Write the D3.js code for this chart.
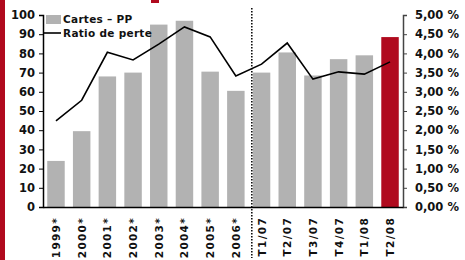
<!DOCTYPE html>
<html>
<head>
<meta charset="utf-8">
<script src="https://cdn.jsdelivr.net/npm/d3@7"></script>
<style>
  body { margin: 0; background: #fff; }
  svg { display: block; font-family: "DejaVu Sans", Verdana, sans-serif; font-weight: bold; }
</style>
</head>
<body>
<svg width="465" height="260"></svg>
<script>
var categories = ["1999*", "2000*", "2001*", "2002*", "2003*", "2004*", "2005*", "2006*",
                  "T1/07", "T2/07", "T3/07", "T4/07", "T1/08", "T2/08"];
var cartes = [24, 39.5, 68, 70, 95, 97, 70.5, 60.5, 70, 80.5, 68.5, 77, 79, 88.5];
var ratio = [2.24, 2.78, 4.03, 3.83, 4.24, 4.69, 4.43, 3.41, 3.72, 4.27, 3.33, 3.52, 3.46, 3.78];
var leftTicks = [0, 10, 20, 30, 40, 50, 60, 70, 80, 90, 100];
var rightTicks = [0, 0.5, 1, 1.5, 2, 2.5, 3, 3.5, 4, 4.5, 5];

var svg = d3.select("svg");
var plotLeft = 43, plotRight = 403, plotTop = 15, plotBottom = 207;
var font = "DejaVu Sans, Verdana, sans-serif";

var x = d3.scaleBand().domain(categories).range([plotLeft, plotRight]).paddingInner(0.32).paddingOuter(0.165);
var y = d3.scaleLinear().domain([0, 100]).range([plotBottom, plotTop]);
var y2 = d3.scaleLinear().domain([0, 5]).range([plotBottom, plotTop]);

// red strip on the left
svg.append("rect").attr("x", 0).attr("y", 0).attr("width", 5).attr("height", 260).attr("fill", "#b00a1e");
svg.append("rect").attr("x", 151).attr("y", 0).attr("width", 8).attr("height", 3).attr("fill", "#b00a1e");

svg.selectAll(".bar")
  .data(cartes)
  .enter()
  .append("rect")
  .attr("class", "bar")
  .attr("x", (d, i) => x(categories[i]))
  .attr("y", d => y(d))
  .attr("width", x.bandwidth())
  .attr("height", d => plotBottom - y(d))
  .attr("fill", (d, i) => i == categories.length - 1 ? "#b00a1e" : "#b2b2b2");

// dotted divider between years and quarters
var divX = x("T1/07") - 1;
svg.append("line")
  .attr("x1", divX).attr("x2", divX)
  .attr("y1", 8).attr("y2", 258)
  .attr("stroke", "#000").attr("stroke-width", 1.5)
  .attr("stroke-dasharray", "1.5,1.5");

var line = d3.line()
  .x((d, i) => x(categories[i]) + x.bandwidth() / 2)
  .y(d => y2(d));
svg.append("path")
  .datum(ratio)
  .attr("d", line)
  .attr("fill", "none")
  .attr("stroke", "#000")
  .attr("stroke-width", 1.6);

// left axis
var gl = svg.append("g")
  .attr("transform", "translate(" + plotLeft + ",0)")
  .call(d3.axisLeft(y).tickValues(leftTicks).tickSize(4).tickPadding(4));
gl.select(".domain").attr("stroke", "#000").attr("stroke-width", 1.5);
gl.selectAll("text").attr("font-size", "11.5px").attr("font-weight", "bold").attr("fill", "#111")
  .attr("font-family", font);

// right axis
var gr = svg.append("g")
  .attr("transform", "translate(" + plotRight + ",0)")
  .call(d3.axisRight(y2).tickValues(rightTicks).tickSize(4).tickPadding(8)
    .tickFormat(d => d3.format(".2f")(d).replace(".", ",") + " %"));
gr.select(".domain").attr("stroke", "#444").attr("stroke-width", 1.5);
gr.selectAll("line").attr("stroke", "#444");
gr.selectAll("text").attr("font-size", "11.5px").attr("font-weight", "bold").attr("fill", "#111")
  .attr("font-family", font);

// x axis
var gx = svg.append("g")
  .attr("transform", "translate(0," + plotBottom + ")")
  .call(d3.axisBottom(x).tickSize(0).tickPadding(0));
gx.select(".domain").attr("stroke", "#000").attr("stroke-width", 1.5);
gx.selectAll("text")
  .attr("font-size", "10.5px").attr("font-weight", "bold").attr("fill", "#111")
  .attr("font-family", font)
  .attr("letter-spacing", "1.3px")
  .style("text-anchor", "end")
  .attr("dx", "-10px")
  .attr("dy", "4px")
  .attr("transform", "rotate(-90)")
  .attr("y", 0).attr("x", 0);

// legend
var lg = svg.append("g").attr("font-family", font);
lg.append("rect").attr("x", 46).attr("y", 15).attr("width", 15).attr("height", 9).attr("fill", "#b2b2b2");
lg.append("text").attr("x", 63).attr("y", 23).attr("font-size", "10.5px").attr("letter-spacing", "0.3px").attr("fill", "#111").text("Cartes – PP");
lg.append("line").attr("x1", 44).attr("x2", 61).attr("y1", 33).attr("y2", 33).attr("stroke", "#000").attr("stroke-width", 1.6);
lg.append("text").attr("x", 63).attr("y", 37).attr("font-size", "10.5px").attr("letter-spacing", "0.3px").attr("fill", "#111").text("Ratio de perte");
</script>
</body>
</html>
